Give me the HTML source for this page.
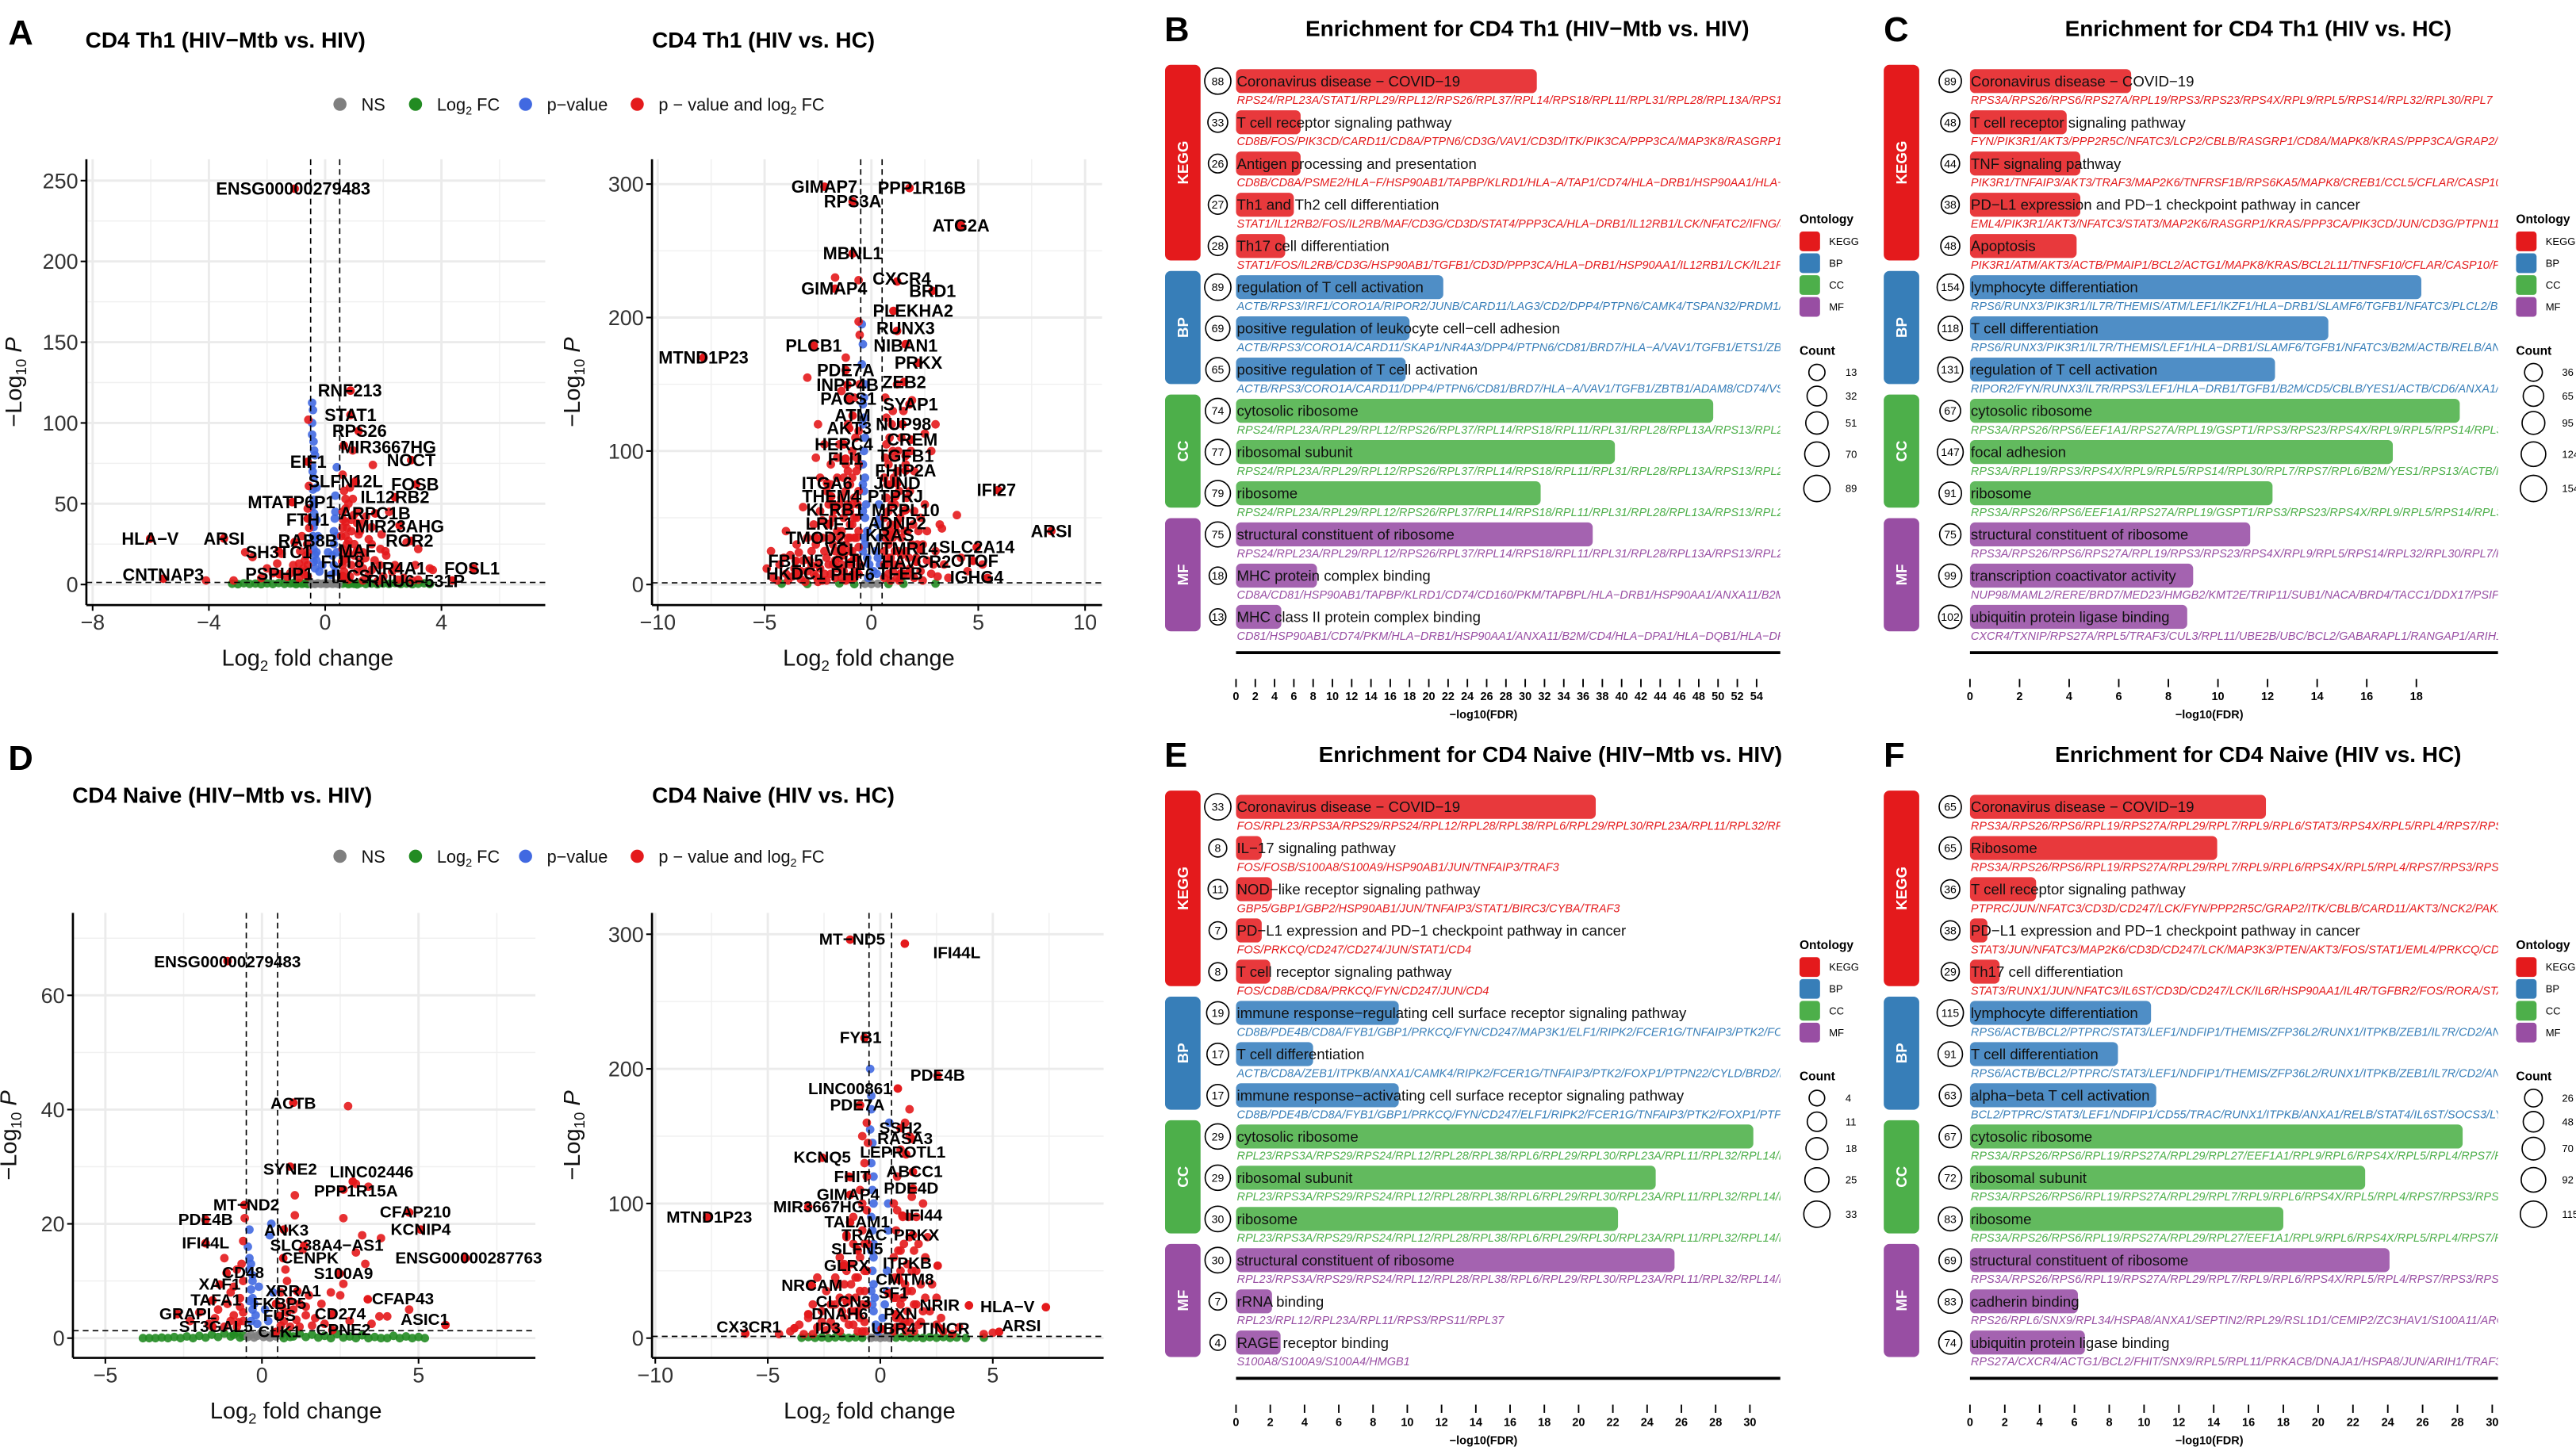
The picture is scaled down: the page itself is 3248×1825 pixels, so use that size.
<!DOCTYPE html>
<html><head><meta charset="utf-8">
<style>
html,body{margin:0;padding:0;background:#fff;}
svg{display:block;font-family:"Liberation Sans",Arial,sans-serif;}
</style></head>
<body>
<svg id="fig" width="3248" height="1825" viewBox="0 0 1568.5 881.3" xmlns="http://www.w3.org/2000/svg">
<rect x="0" y="0" width="1568.5" height="881.3" fill="#fff"/>
<defs>
<clipPath id="clipB"><rect x="700" y="0" width="384" height="881"/></clipPath>
<clipPath id="clipC"><rect x="1140" y="0" width="381" height="881"/></clipPath>
</defs>
</svg>
<script>
// ===================== VOLCANO DATA =====================
const a1Labels = [["ENSG00000279483",-1.05,245,-1.1,245],["RNF213",0.87,120,0.85,120],["STAT1",0.87,105,0.87,105],["RPS26",1.15,95,1.18,95],["MIR3667HG",0.64,86,2.17,85],["NOCT",2.96,77,2.96,77],["EIF1",-0.6,76,-0.58,76],["SLFN12L",1.05,64,0.7,64],["FOSB",3.13,62,3.09,62],["IL12RB2",2.4,54,2.4,54],["MTATP6P1",-1.13,51,-1.16,51],["ARPC1B",1.72,44,1.72,44],["FTH1",-0.6,40.8,-0.6,40],["MIR23AHG",2.56,36.5,2.56,36],["HLA\u2212V",-6.02,28.4,-6.02,28.4],["ARSI",-3.48,28.5,-3.48,28.4],["RAB8B",-1.05,26.3,-0.6,27],["ROR2",2.96,27,2.9,27],["SH3TC1",-1.6,20.6,-1.6,20],["MAF",1.1,21,1.1,21],["FUT8",0.59,14.2,0.59,14],["NR4A1",2.5,10,2.5,10],["FOSL1",5.1,10,5.05,10],["CNTNAP3",-5.57,3.6,-5.57,6],["PSPHP1",-1.58,6.4,-1.58,6.4],["HLCS",0.6,5.3,0.75,5.3],["RNU6\u2212531P",4.37,2.5,3.13,2]];
const a1Red = [[1.64,74],[0.64,86],[0.95,83],[0.6,68],[0.65,58],[0.7,53],[0.95,53],[0.7,47],[0.98,43],[0.7,38.6],[1.26,37.6],[1.6,35.5],[1.94,31],[1.15,31],[0.8,27],[1.6,25],[1.2,33],[2.07,20.6],[1.38,16.3],[1.88,12],[2.1,18],[3.1,12],[3.6,10],[3.7,9],[3.2,3],[2.5,3],[0.55,30],[0.6,22],[0.7,18],[0.9,12],[1.1,8],[1.5,6],[2.0,5],[2.7,4],[3.0,2.5],[0.55,5],[0.8,3],[1.3,2.5],[1.8,2],[2.3,8],[1.0,25],[1.3,20],[0.75,35],[0.62,40],[1.4,42],[0.85,60],[1.05,63],[2.2,45],[2.8,26],[3.2,22],[0.6,12],[0.65,8],[0.9,40],[1.1,45],[0.8,20],[1.2,14],[1.5,28],[0.7,30],[0.9,33],[1.0,18],[1.3,10],[1.7,15],[0.6,35],[0.75,25],[1.1,38],[0.65,15],[0.85,5],[1.6,9],[2.4,12],[1.9,22],[0.6,45],[0.8,50],
[-2.75,20],[-2.5,17],[-1.65,13],[-1.8,7],[-3.15,2.5],[-4.1,2.5],[-0.56,61],[-0.6,47],[-0.86,20.6],[-0.9,13],[-0.75,10],[-1.3,4.7],[-0.58,102],[-0.7,15],[-0.62,25],[-1.0,8],[-2.2,4],[-0.6,5],[-0.8,30],[-1.5,19],[-2.0,10],[-0.6,12],[-0.7,6],[-0.65,18],[-0.8,8],[-1.1,12],[-0.55,35],[-0.9,4],[-1.2,7],[-0.6,20]];
const a1Blue = [[-0.45,112.5],[-0.42,108],[-0.45,92.8],[-0.4,88.5],[-0.38,83],[-0.45,73.6],[-0.4,66],[-0.42,58.8],[-0.4,52.4],[-0.38,44],[-0.4,35.5],[-0.35,27],[-0.35,18.5],[-0.35,10],[0.4,72.6],[0.35,45],[0.33,40.8],[0.3,33],[0.3,25],[0.25,18],[-0.1,12],[0.1,20],[-0.3,60],[-0.35,80],[-0.45,100],[-0.3,40],[-0.25,30],[0.35,55],[-0.2,8],[0.2,6],[0.4,30],[-0.45,48],[-0.43,70],[-0.3,20],[-0.4,14],[0.3,12],[-0.45,38],[-0.38,50],[-0.42,30],[-0.4,22],[-0.3,15],[0.4,20],[0.35,8]];
const a1Green = [[-3.2,0.5],[-3.0,0.2],[-2.8,0.8],[-2.6,0.4],[-2.4,0.6],[-2.2,0.2],[-2.0,0.7],[-1.8,0.3],[-1.6,0.9],[-1.4,0.4],[-1.2,0.6],[-1.0,0.2],[-0.9,1.0],[-0.8,0.4],[-0.7,0.7],[-0.6,0.3],[0.6,0.5],[0.7,0.9],[0.8,0.2],[0.9,0.6],[1.0,0.4],[1.2,0.8],[1.4,0.3],[1.6,0.6],[1.8,0.2],[2.0,0.7],[2.2,0.4],[2.4,0.9],[2.6,0.3],[2.8,0.6],[3.0,0.2],[3.2,0.5],[3.4,0.8],[3.6,0.3],[-1.1,0.9],[1.1,0.1]];
const a1Gray = [[-0.45,0.5],[-0.35,0.3],[-0.25,0.8],[-0.15,0.4],[-0.05,0.6],[0.05,0.3],[0.15,0.7],[0.25,0.4],[0.35,0.6],[0.45,0.3]];

const a2Labels = [["GIMAP7",-2.2,298,-2.2,298],["PPP1R16B",1.78,297,2.36,297],["RPS3A",-0.88,287,-0.88,287],["ATG2A",4.19,269,4.19,269],["MBNL1",-0.88,248,-0.88,248],["CXCR4",1.2,227,1.42,229],["GIMAP4",-1.7,221.6,-1.74,221.6],["BRD1",2.86,220,2.86,220],["PLEKHA2",1.03,205,1.95,205],["RUNX3",1.2,190,1.6,192],["PLCB1",-2.7,179,-2.7,179],["NIBAN1",1.6,180,1.6,179],["MTND1P23",-7.86,170,-7.86,170],["PRKX",2.2,166,2.2,166],["PDE7A",-1.2,160.6,-1.2,160.6],["ZEB2",1.53,151.7,1.53,151.7],["INPP4B",-1.12,149.6,-1.12,149.6],["PACS1",-1.04,139,-1.08,139],["SYAP1",1.78,135,1.83,135],["ATM",-0.88,126.5,-0.88,126.5],["NUP98",1.45,120,1.5,120],["AKT3",-1.04,117,-1.04,117],["CREM",1.86,108.5,1.91,108.5],["HERC4",-1.29,105,-1.29,105],["TGFB1",1.6,96.4,1.6,96.4],["FLI1",-1.21,94.3,-1.21,94.3],["FHIP2A",1.6,85.3,1.6,85.3],["ITGA6",-2.08,76,-2.08,76],["JUND",1.2,75.8,1.2,75.8],["IFI27",5.93,70.7,5.85,70.7],["THEM4",-1.88,66,-1.88,66],["PTPRJ",1.12,66,1.12,66],["KLRB1",-1.71,56,-1.71,56],["MRPL10",1.6,55.8,1.6,55.8],["LRIF1",-1.96,45.5,-1.96,45.5],["ADNP2",1.2,46,1.2,46],["ARSI",8.42,40,8.42,40],["TMOD2",-2.6,35,-2.6,35],["KRAS",0.86,37,0.86,37],["SLC2A14",4.93,28,4.93,28],["VCL",-1.38,26,-1.38,26],["MTMR14",2.3,26,1.45,27],["FBLN5",-3.54,17.7,-3.54,17.7],["CHM",-0.96,16.7,-0.96,16.7],["HAVCR2",2.1,17,2.1,17],["OTOF",4.75,17.7,4.83,17.7],["HKDC1",-3.54,8.2,-3.54,8.2],["PHF6",-0.88,7.5,-0.88,7.5],["TFEB",1.36,8.2,1.36,8.2],["IGHG4",5.43,4.9,4.93,5.5]];
const a2Red = [[-4.7,25],[-4.9,12],[-4.6,5],[-4.3,15],[-4.0,8],[-3.8,22],[-3.6,12],[-3.5,30],[-3.3,4],[-3.2,18],[-3.0,10],[-3.0,35],[-2.8,25],[-2.7,45],[-2.6,6],[-2.5,15],[-2.4,55],[-2.3,35],[-2.2,25],[-2.2,8],[-2.1,70],[-2.0,45],[-2.0,15],[-1.9,90],[-1.8,60],[-1.8,30],[-1.7,5],[-1.6,80],[-1.6,40],[-1.5,20],[-1.5,105],[-1.4,65],[-1.3,50],[-1.3,10],[-1.2,90],[-1.2,30],[-1.1,120],[-1.0,75],[-1.0,45],[-1.0,15],[-0.9,100],[-0.9,60],[-0.8,140],[-0.8,35],[-0.8,5],[-0.7,85],[-0.7,50],[-0.7,20],[-0.6,115],[-0.6,70],[-0.6,28],[-0.55,150],[-2.5,120],[-3.0,155],[-1.7,230],[-0.6,228],[-0.6,197],[-0.55,187],[-1.2,170],[-1.4,145],[-2.2,105],[-2.6,95],[-3.2,58],[-4.0,40],[-1.9,75],[-2.4,80],[-1.1,60],[-1.4,25],[-2.8,14],[-3.9,3],[-0.9,25],[-1.7,18],[-2.1,3],[-1.1,4],[-0.6,8],[-0.7,95],
[-4.4,3],[-4.1,20],[-3.7,6],[-3.4,24],[-3.1,2],[-2.9,18],[-2.7,8],[-2.6,30],[-2.4,12],[-2.3,3],[-2.1,20],[-1.9,8],[-1.9,35],[-1.8,50],[-1.7,25],[-1.6,12],[-1.5,60],[-1.4,5],[-1.4,40],[-1.3,80],[-1.3,22],[-1.2,55],[-1.2,3],[-1.1,35],[-1.1,85],[-1.0,25],[-1.0,55],[-0.95,5],[-0.9,45],[-0.9,80],[-0.8,20],[-0.8,65],[-0.75,110],[-0.7,35],[-0.7,10],[-0.65,60],[-0.6,40],[-0.6,90],[-0.55,15],[-2.0,60],[-2.3,48],[-1.6,95],[-0.8,50],[-1.5,35],[-1.2,70],[-3.3,10],[-2.5,2],[-1.8,15],[-1.4,15],[-1.0,35],
[0.6,5],[0.6,25],[0.6,50],[0.6,80],[0.7,15],[0.7,40],[0.7,65],[0.7,105],[0.8,8],[0.8,30],[0.8,55],[0.8,90],[0.9,20],[0.9,45],[0.9,75],[1.0,10],[1.0,35],[1.0,100],[1.1,60],[1.1,25],[1.2,5],[1.2,45],[1.2,85],[1.3,15],[1.3,70],[1.4,35],[1.4,110],[1.5,8],[1.5,55],[1.6,25],[1.6,90],[1.7,40],[1.8,12],[1.8,70],[1.9,30],[2.0,5],[2.0,55],[2.1,20],[2.2,40],[2.3,10],[2.4,30],[2.5,60],[2.6,18],[2.8,8],[3.0,25],[3.2,45],[3.4,15],[3.6,5],[4.0,52],[3.0,120],[2.8,100],[1.5,130],[1.0,130],[1.9,138],[2.5,113],[3.3,42],[4.5,10],[5.2,15],[4.2,20],[1.2,150],[0.7,125],[0.6,15],[0.9,3],[1.4,22],[1.1,95],[2.0,85],[0.65,140],
[0.65,35],[0.65,95],[0.75,20],[0.75,75],[0.85,40],[0.85,110],[0.95,60],[1.05,15],[1.05,80],[1.15,40],[1.25,25],[1.25,100],[1.35,50],[1.45,8],[1.55,40],[1.65,65],[1.75,20],[1.85,100],[1.95,45],[2.15,30],[2.3,50],[2.6,40],[2.9,15],[3.1,6],[1.7,8],[1.3,3],[2.4,3],[0.95,120]];
const a2Blue = [[-0.45,195],[-0.4,180],[-0.45,165],[-0.3,150],[-0.4,135],[-0.35,125],[-0.3,110],[-0.35,100],[-0.4,90],[-0.3,80],[-0.35,70],[-0.25,60],[-0.3,50],[-0.2,40],[-0.3,30],[-0.2,20],[-0.1,15],[0.2,25],[0.1,10],[0.3,45],[0.35,60],[0.4,35],[0.25,8],[-0.35,140],[-0.4,120],[-0.4,75],[-0.15,5],[0.4,15],[-0.4,55],[-0.35,35],[-0.4,25],[0.3,20],[0.4,50]];
const a2Green = [[-4.2,0.6],[-3.0,0.4],[-1.5,0.8],[1.5,0.5],[3.0,0.7],[-0.8,0.3],[0.8,0.4]];
const a2Gray = [[-0.3,0.5],[0.0,0.4],[0.3,0.6]];

const d1Labels = [["ENSG00000279483",-1.1,66,-1.1,65.8],["ACTB",1.0,41.2,1.0,41],["SYNE2",0.9,30,0.9,29.5],["LINC02446",2.9,27.4,3.5,29],["PPP1R15A",2.6,26,3.0,25.7],["CFAP210",4.7,22,4.9,22],["MT\u2212ND2",-0.56,23.3,-0.5,23.3],["PDE4B",-1.8,20.7,-1.8,20.7],["ANK3",0.7,19,0.78,18.8],["KCNIP4",5.07,19,5.07,19],["IFI44L",-1.8,16.6,-1.8,16.6],["SLC38A4\u2212AS1",1.35,16.2,2.07,16.2],["CENPK",0.68,14,1.53,14],["ENSG00000287763",6.5,14,6.6,14],["CD48",-1.13,11.4,-0.6,11.4],["S100A9",2.48,11.3,2.6,11.3],["XAF1",-1.35,9.4,-1.35,9.4],["XRRA1",1.13,8.2,1.0,8.2],["TAFA1",-1.58,6.6,-1.47,6.6],["CFAP43",3.38,6.8,4.5,6.8],["FKBP5",0.45,6,0.56,6],["GRAPL",-2.7,4.2,-2.36,4.2],["CD274",2.25,4.2,2.5,4.2],["FUS",0.56,3.9,0.56,3.9],["ASIC1",5.86,2.3,5.2,3.2],["ST3GAL5",-1.58,2,-1.47,2],["CLK1",0.45,1.1,0.56,1.1],["CPNE2",2.25,1.4,2.6,1.4]];
const d1Red = [[2.75,40.6],[3.0,27],[3.4,26.5],[1.05,25],[1.05,21.5],[2.6,21],[3.2,18],[3.8,17.5],[3.0,15],[1.3,15.5],[3.3,13],[0.8,10],[2.6,9.5],[2.2,8],[2.5,7.5],[1.5,7.5],[1.9,6],[3.75,3.8],[4.0,3.8],[2.8,3],[1.0,5],[0.7,3],[1.2,2],[1.7,3.5],[-0.55,21],[-0.6,17],[-1.2,14],[-0.8,12],[-0.6,10],[-1.0,8],[-0.7,7],[-1.4,5],[-0.9,4],[-2.3,3],[-1.7,2.5],[-0.6,3],[-1.2,2],[-2.0,4.5],[0.6,8],[0.9,6.5],[1.4,4],[2.0,2.5],[0.6,2.2],[-0.8,2],[4.7,5],[3.5,2.5],[-0.7,5.5],[-1.0,3],[0.8,4.5],[1.2,6],[-0.65,13],[-0.9,9],[-1.1,6],[-0.6,4.5],[-0.75,2.8],[-1.5,3.5],[0.65,5.5],[0.75,12],[1.1,3.2],[1.6,2.2],[0.9,2],[1.4,5.5]];
const d1Blue = [[-0.45,16],[-0.4,14],[-0.35,13],[-0.4,12],[-0.3,10],[-0.35,8.5],[-0.3,7],[-0.25,6],[-0.3,5],[-0.2,4],[0.3,20],[0.25,18],[-0.1,9],[0.1,5],[0.2,3],[-0.15,2.5],[0.35,8],[-0.4,19],[-0.35,3],[-0.4,6.5],[-0.3,11]];
const d1Green = [[-3.8,0],[-3.6,0],[-3.4,0],[-3.2,0.1],[-3.0,0],[-2.8,0.2],[-2.6,0],[-2.4,0.3],[-2.2,0],[-2.0,0.4],[-1.8,0.1],[-1.6,0.6],[-1.4,0.2],[-1.2,0.8],[-1.0,0.3],[-0.8,1.0],[-0.6,0.4],[0.6,0.5],[0.8,1.0],[1.0,0.3],[1.2,0.8],[1.4,0.2],[1.6,0.6],[1.8,0.1],[2.0,0.4],[2.2,0],[2.4,0.7],[2.6,0.1],[2.8,0.3],[3.0,0],[3.2,0.5],[3.4,0],[3.6,0.2],[3.8,0],[4.0,0],[4.2,0.4],[4.4,0],[4.6,0.3],[4.8,0],[5.0,0.2],[5.2,0],[-0.7,0.1],[-0.9,0.6],[0.7,0],[0.9,0.2]];
const d1Gray = [[-0.45,0.2],[-0.35,0.6],[-0.25,0.1],[-0.15,0.4],[-0.05,0.8],[0.05,0.2],[0.15,0.5],[0.25,0.1],[0.35,0.7],[0.45,0.3]];

const d2Labels = [["MT\u2212ND5",-1.34,296,-1.25,296],["IFI44L",1.09,293,3.4,286],["FYB1",-0.7,223,-0.87,223],["PDE4B",2.55,195,2.55,195],["LINC00861",0.78,185.4,-1.34,185],["PDE7A",-0.9,173,-1.02,173],["SSH2",0.9,156,0.9,156],["RASA3",1.4,148,1.1,148],["LEPROTL1",1.15,136.5,1.0,138],["KCNQ5",-2.58,134,-2.58,134],["ABCC1",1.45,123.5,1.52,123.5],["FHIT",-1.34,119.6,-1.25,119.6],["PDE4D",1.45,111,1.37,111],["GIMAP4",-1.34,106.5,-1.43,106.5],["MIR3667HG",-3.2,97.4,-2.73,97.4],["IFI44",0.98,91,1.93,91],["MTND1P23",-7.7,89.6,-7.6,89.6],["TALAM1",-1.34,86,-1.03,86],["PRKX",1.45,76.5,1.61,76.5],["TRAC",-1.5,76.5,-0.71,76.5],["SLFN5",-1.03,66,-1.03,66],["ITPKB",2.55,53.8,1.2,55.6],["GLRX",-1.65,53.8,-1.49,53.8],["CMTM8",0.84,43.3,1.09,43.3],["NRCAM",-3.04,39,-3.04,39],["SF1",0.37,33.4,0.59,33.4],["CLCN3",-1.49,26.9,-1.65,26.9],["NRIR",3.94,24.3,2.64,24.3],["HLA\u2212V",7.36,23,5.65,23],["DNAH6",-3.2,17.8,-1.8,17.8],["PXN",0.68,17.8,0.9,17.8],["CX3CR1",-6.0,3.4,-5.84,8],["ID3",-3.82,7.3,-2.33,7.3],["UBR4",0.06,6.8,0.59,6.8],["TINCR",2.7,7,2.86,7],["ARSI",5.28,4.7,6.27,9]];
const d2Red = [[-4.0,5],[-3.6,10],[-3.2,15],[-3.0,25],[-2.8,8],[-2.6,20],[-2.4,35],[-2.2,12],[-2.0,45],[-2.0,25],[-1.8,60],[-1.8,5],[-1.6,40],[-1.6,15],[-1.5,75],[-1.4,30],[-1.3,55],[-1.2,10],[-1.2,90],[-1.1,45],[-1.0,20],[-1.0,65],[-0.9,110],[-0.9,35],[-0.8,80],[-0.8,5],[-0.7,50],[-0.7,130],[-0.6,25],[-0.6,95],[-0.55,145],[-0.6,160],[-0.8,150],[-0.55,70],[-1.4,120],[-3.4,3],[-4.5,3],[-2.8,45],[-1.9,40],[-1.1,20],[-0.7,12],[-2.4,6],
[-2.2,25],[-2.0,8],[-1.8,30],[-1.7,20],[-1.5,50],[-1.4,10],[-1.3,40],[-1.2,70],[-1.1,30],[-1.0,5],[-1.0,45],[-0.9,15],[-0.9,60],[-0.8,25],[-0.8,100],[-0.7,35],[-0.7,70],[-0.65,5],[-0.6,50],[-0.6,120],[-1.3,20],[-1.6,55],[-2.6,12],[-3.0,3],
[0.6,5],[0.6,30],[0.6,60],[0.6,100],[0.7,15],[0.7,80],[0.75,120],[0.8,45],[0.9,25],[0.9,65],[1.0,10],[1.0,90],[1.1,40],[1.1,160],[1.2,55],[1.2,20],[1.3,75],[1.3,170],[1.4,35],[1.5,65],[1.5,5],[1.6,25],[1.6,50],[1.8,40],[1.8,12],[2.0,30],[2.0,60],[2.2,20],[2.5,10],[2.8,5],[3.2,3],[4.6,3],[5.0,4],[1.9,100],[2.1,75],[1.4,105],[0.9,140],[1.3,150],[1.6,90],[2.5,30],[0.7,8],[1.1,12],
[0.65,45],[0.7,30],[0.8,15],[0.8,65],[0.9,50],[1.0,30],[1.05,70],[1.15,5],[1.2,35],[1.3,12],[1.4,50],[1.5,25],[1.7,10],[1.7,70],[1.9,20],[2.3,40],[0.75,95],[1.25,90],[2.7,15],[3.5,8]];
const d2Blue = [[-0.45,200],[-0.4,180],[-0.4,170],[-0.45,155],[-0.35,145],[-0.4,130],[-0.3,120],[-0.35,110],[-0.3,100],[-0.4,90],[-0.35,80],[-0.3,70],[-0.3,60],[-0.35,50],[-0.3,40],[-0.25,30],[-0.3,20],[-0.2,10],[0.4,160],[0.35,80],[0.3,50],[0.2,25],[0.1,15],[0.3,35],[-0.1,5],[0.35,100],[-0.4,35],[-0.35,25],[-0.4,65]];
const d2Green = [[-3.5,0.3],[-3.2,0.8],[-2.9,0.2],[-2.6,0.6],[-2.3,0.1],[-2.0,0.5],[-1.7,0.9],[-1.4,0.2],[-1.1,0.6],[-0.8,0.3],[0.7,0.4],[1.0,0.9],[1.3,0.2],[1.6,0.6],[1.9,0.1],[2.2,0.7],[2.5,0.3],[2.8,0.8],[3.1,0.2],[3.4,0.5],[3.8,0.1],[4.6,0.4]];
const d2Gray = [[-0.4,0.3],[-0.2,0.7],[0.0,0.2],[0.2,0.6],[0.4,0.3]];

// ===================== ENRICHMENT DATA =====================
const ontologies = ["KEGG","BP","CC","MF"];
const bTerms = ["Coronavirus disease \u2212 COVID\u221219","T cell receptor signaling pathway","Antigen processing and presentation","Th1 and Th2 cell differentiation","Th17 cell differentiation","regulation of T cell activation","positive regulation of leukocyte cell\u2212cell adhesion","positive regulation of T cell activation","cytosolic ribosome","ribosomal subunit","ribosome","structural constituent of ribosome","MHC protein complex binding","MHC class II protein complex binding"];
const bCounts = [88,33,26,27,28,89,69,65,74,77,79,75,18,13];
const bValues = [31.2,6.7,6.7,6.0,5.1,21.5,18.0,17.6,49.5,39.3,31.6,37.0,8.4,4.7];
const bGenes = ["RPS24/RPL23A/STAT1/RPL29/RPL12/RPS26/RPL37/RPL14/RPS18/RPL11/RPL31/RPL28/RPL13A/RPS13/RPL24","CD8B/FOS/PIK3CD/CARD11/CD8A/PTPN6/CD3G/VAV1/CD3D/ITK/PIK3CA/PPP3CA/MAP3K8/RASGRP1/LCK","CD8B/CD8A/PSME2/HLA\u2212F/HSP90AB1/TAPBP/KLRD1/HLA\u2212A/TAP1/CD74/HLA\u2212DRB1/HSP90AA1/HLA\u2212E","STAT1/IL12RB2/FOS/IL2RB/MAF/CD3G/CD3D/STAT4/PPP3CA/HLA\u2212DRB1/IL12RB1/LCK/NFATC2/IFNG/JAK","STAT1/FOS/IL2RB/CD3G/HSP90AB1/TGFB1/CD3D/PPP3CA/HLA\u2212DRB1/HSP90AA1/IL12RB1/LCK/IL21R/","ACTB/RPS3/IRF1/CORO1A/RIPOR2/JUNB/CARD11/LAG3/CD2/DPP4/PTPN6/CAMK4/TSPAN32/PRDM1/CD","ACTB/RPS3/CORO1A/CARD11/SKAP1/NR4A3/DPP4/PTPN6/CD81/BRD7/HLA\u2212A/VAV1/TGFB1/ETS1/ZBTB","ACTB/RPS3/CORO1A/CARD11/DPP4/PTPN6/CD81/BRD7/HLA\u2212A/VAV1/TGFB1/ZBTB1/ADAM8/CD74/VSIR","RPS24/RPL23A/RPL29/RPL12/RPS26/RPL37/RPL14/RPS18/RPL11/RPL31/RPL28/RPL13A/RPS13/RPL24","RPS24/RPL23A/RPL29/RPL12/RPS26/RPL37/RPL14/RPS18/RPL11/RPL31/RPL28/RPL13A/RPS13/RPL24","RPS24/RPL23A/RPL29/RPL12/RPS26/RPL37/RPL14/RPS18/RPL11/RPL31/RPL28/RPL13A/RPS13/RPL24","RPS24/RPL23A/RPL29/RPL12/RPS26/RPL37/RPL14/RPS18/RPL11/RPL31/RPL28/RPL13A/RPS13/RPL24","CD8A/CD81/HSP90AB1/TAPBP/KLRD1/CD74/CD160/PKM/TAPBPL/HLA\u2212DRB1/HSP90AA1/ANXA11/B2M/","CD81/HSP90AB1/CD74/PKM/HLA\u2212DRB1/HSP90AA1/ANXA11/B2M/CD4/HLA\u2212DPA1/HLA\u2212DQB1/HLA\u2212DRB"];
const bOnt = [0,0,0,0,0,1,1,1,2,2,2,3,3,3];
const bTicks = [0,2,4,6,8,10,12,14,16,18,20,22,24,26,28,30,32,34,36,38,40,42,44,46,48,50,52,54];
const bCountLegend = [13,32,51,70,89];

const cTerms = ["Coronavirus disease \u2212 COVID\u221219","T cell receptor signaling pathway","TNF signaling pathway","PD\u2212L1 expression and PD\u22121 checkpoint pathway in cancer","Apoptosis","lymphocyte differentiation","T cell differentiation","regulation of T cell activation","cytosolic ribosome","focal adhesion","ribosome","structural constituent of ribosome","transcription coactivator activity","ubiquitin protein ligase binding"];
const cCounts = [89,48,44,38,48,154,118,131,67,147,91,75,99,102];
const cValues = [6.5,3.9,4.45,4.45,4.3,18.2,14.45,12.3,19.75,17.05,12.2,11.3,9.0,8.76];
const cGenes = ["RPS3A/RPS26/RPS6/RPS27A/RPL19/RPS3/RPS23/RPS4X/RPL9/RPL5/RPS14/RPL32/RPL30/RPL7","FYN/PIK3R1/AKT3/PPP2R5C/NFATC3/LCP2/CBLB/RASGRP1/CD8A/MAPK8/KRAS/PPP3CA/GRAP2/PTP","PIK3R1/TNFAIP3/AKT3/TRAF3/MAP2K6/TNFRSF1B/RPS6KA5/MAPK8/CREB1/CCL5/CFLAR/CASP10/","EML4/PIK3R1/AKT3/NFATC3/STAT3/MAP2K6/RASGRP1/KRAS/PPP3CA/PIK3CD/JUN/CD3G/PTPN11/I","PIK3R1/ATM/AKT3/ACTB/PMAIP1/BCL2/ACTG1/MAPK8/KRAS/BCL2L11/TNFSF10/CFLAR/CASP10/PI","RPS6/RUNX3/PIK3R1/IL7R/THEMIS/ATM/LEF1/IKZF1/HLA\u2212DRB1/SLAMF6/TGFB1/NFATC3/PLCL2/B2","RPS6/RUNX3/PIK3R1/IL7R/THEMIS/LEF1/HLA\u2212DRB1/SLAMF6/TGFB1/NFATC3/B2M/ACTB/RELB/ANX","RIPOR2/FYN/RUNX3/IL7R/RPS3/LEF1/HLA\u2212DRB1/TGFB1/B2M/CD5/CBLB/YES1/ACTB/CD6/ANXA1/S","RPS3A/RPS26/RPS6/EEF1A1/RPS27A/RPL19/GSPT1/RPS3/RPS23/RPS4X/RPL9/RPL5/RPS14/RPL3","RPS3A/RPL19/RPS3/RPS4X/RPL9/RPL5/RPS14/RPL30/RPL7/RPS7/RPL6/B2M/YES1/RPS13/ACTB/IT","RPS3A/RPS26/RPS6/EEF1A1/RPS27A/RPL19/GSPT1/RPS3/RPS23/RPS4X/RPL9/RPL5/RPS14/RPL3","RPS3A/RPS26/RPS6/RPS27A/RPL19/RPS3/RPS23/RPS4X/RPL9/RPL5/RPS14/RPL32/RPL30/RPL7/R","NUP98/MAML2/RERE/BRD7/MED23/HMGB2/KMT2E/TRIP11/SUB1/NACA/BRD4/TACC1/DDX17/PSIP1","CXCR4/TXNIP/RPS27A/RPL5/TRAF3/CUL3/RPL11/UBE2B/UBC/BCL2/GABARAPL1/RANGAP1/ARIH1"];
const cOnt = [0,0,0,0,0,1,1,1,2,2,2,3,3,3];
const cTicks = [0,2,4,6,8,10,12,14,16,18];
const cCountLegend = [36,65,95,124,154];

const eTerms = ["Coronavirus disease \u2212 COVID\u221219","IL\u221217 signaling pathway","NOD\u2212like receptor signaling pathway","PD\u2212L1 expression and PD\u22121 checkpoint pathway in cancer","T cell receptor signaling pathway","immune response\u2212regulating cell surface receptor signaling pathway","T cell differentiation","immune response\u2212activating cell surface receptor signaling pathway","cytosolic ribosome","ribosomal subunit","ribosome","structural constituent of ribosome","rRNA binding","RAGE receptor binding"];
const eCounts = [33,8,11,7,8,19,17,17,29,29,30,30,7,4];
const eValues = [21.0,1.5,2.1,1.5,2.0,9.5,4.5,9.5,30.2,24.5,22.3,25.6,2.1,2.6];
const eGenes = ["FOS/RPL23/RPS3A/RPS29/RPS24/RPL12/RPL28/RPL38/RPL6/RPL29/RPL30/RPL23A/RPL11/RPL32/RPL","FOS/FOSB/S100A8/S100A9/HSP90AB1/JUN/TNFAIP3/TRAF3","GBP5/GBP1/GBP2/HSP90AB1/JUN/TNFAIP3/STAT1/BIRC3/CYBA/TRAF3","FOS/PRKCQ/CD247/CD274/JUN/STAT1/CD4","FOS/CD8B/CD8A/PRKCQ/FYN/CD247/JUN/CD4","CD8B/PDE4B/CD8A/FYB1/GBP1/PRKCQ/FYN/CD247/MAP3K1/ELF1/RIPK2/FCER1G/TNFAIP3/PTK2/FOX","ACTB/CD8A/ZEB1/ITPKB/ANXA1/CAMK4/RIPK2/FCER1G/TNFAIP3/PTK2/FOXP1/PTPN22/CYLD/BRD2/HMGB","CD8B/PDE4B/CD8A/FYB1/GBP1/PRKCQ/FYN/CD247/ELF1/RIPK2/FCER1G/TNFAIP3/PTK2/FOXP1/PTPN22/CYL","RPL23/RPS3A/RPS29/RPS24/RPL12/RPL28/RPL38/RPL6/RPL29/RPL30/RPL23A/RPL11/RPL32/RPL14/R","RPL23/RPS3A/RPS29/RPS24/RPL12/RPL28/RPL38/RPL6/RPL29/RPL30/RPL23A/RPL11/RPL32/RPL14/R","RPL23/RPS3A/RPS29/RPS24/RPL12/RPL28/RPL38/RPL6/RPL29/RPL30/RPL23A/RPL11/RPL32/RPL14/R","RPL23/RPS3A/RPS29/RPS24/RPL12/RPL28/RPL38/RPL6/RPL29/RPL30/RPL23A/RPL11/RPL32/RPL14/R","RPL23/RPL12/RPL23A/RPL11/RPS3/RPS11/RPL37","S100A8/S100A9/S100A4/HMGB1"];
const eOnt = [0,0,0,0,0,1,1,1,2,2,2,3,3,3];
const eTicks = [0,2,4,6,8,10,12,14,16,18,20,22,24,26,28,30];
const eCountLegend = [4,11,18,25,33];

const fTerms = ["Coronavirus disease \u2212 COVID\u221219","Ribosome","T cell receptor signaling pathway","PD\u2212L1 expression and PD\u22121 checkpoint pathway in cancer","Th17 cell differentiation","lymphocyte differentiation","T cell differentiation","alpha\u2212beta T cell activation","cytosolic ribosome","ribosomal subunit","ribosome","structural constituent of ribosome","cadherin binding","ubiquitin protein ligase binding"];
const fCounts = [65,65,36,38,29,115,91,63,67,72,83,69,83,74];
const fValues = [17.0,14.2,3.8,1.0,1.7,10.4,8.5,10.7,28.3,22.7,18.0,24.1,6.2,6.6];
const fGenes = ["RPS3A/RPS26/RPS6/RPL19/RPS27A/RPL29/RPL7/RPL9/RPL6/STAT3/RPS4X/RPL5/RPL4/RPS7/RPS3/E","RPS3A/RPS26/RPS6/RPL19/RPS27A/RPL29/RPL7/RPL9/RPL6/RPS4X/RPL5/RPL4/RPS7/RPS3/RPS14/R","PTPRC/JUN/NFATC3/CD3D/CD247/LCK/FYN/PPP2R5C/GRAP2/ITK/CBLB/CARD11/AKT3/NCK2/PAK2/FO","STAT3/JUN/NFATC3/MAP2K6/CD3D/CD247/LCK/MAP3K3/PTEN/AKT3/FOS/STAT1/EML4/PRKCQ/CD3G/A","STAT3/RUNX1/JUN/NFATC3/IL6ST/CD3D/CD247/LCK/IL6R/HSP90AA1/IL4R/TGFBR2/FOS/RORA/STAT1/P","RPS6/ACTB/BCL2/PTPRC/STAT3/LEF1/NDFIP1/THEMIS/ZFP36L2/RUNX1/ITPKB/ZEB1/IL7R/CD2/ANXA1/","RPS6/ACTB/BCL2/PTPRC/STAT3/LEF1/NDFIP1/THEMIS/ZFP36L2/RUNX1/ITPKB/ZEB1/IL7R/CD2/ANXA1/","BCL2/PTPRC/STAT3/LEF1/NDFIP1/CD55/TRAC/RUNX1/ITPKB/ANXA1/RELB/STAT4/IL6ST/SOCS3/LY9/CD","RPS3A/RPS26/RPS6/RPL19/RPS27A/RPL29/RPL27/EEF1A1/RPL9/RPL6/RPS4X/RPL5/RPL4/RPS7/RPS3/F","RPS3A/RPS26/RPS6/RPL19/RPS27A/RPL29/RPL7/RPL9/RPL6/RPS4X/RPL5/RPL4/RPS7/RPS3/RPS14/R","RPS3A/RPS26/RPS6/RPL19/RPS27A/RPL29/RPL27/EEF1A1/RPL9/RPL6/RPS4X/RPL5/RPL4/RPS7/RPS3/F","RPS3A/RPS26/RPS6/RPL19/RPS27A/RPL29/RPL7/RPL9/RPL6/RPS4X/RPL5/RPL4/RPS7/RPS3/RPS14/R","RPS26/RPL6/SNX9/RPL34/HSPA8/ANXA1/SEPTIN2/RPL29/RSL1D1/CEMIP2/ZC3HAV1/S100A11/ARGLU1","RPS27A/CXCR4/ACTG1/BCL2/FHIT/SNX9/RPL5/RPL11/PRKACB/DNAJA1/HSPA8/JUN/ARIH1/TRAF3/UBE"];
const fOnt = [0,0,0,0,0,1,1,1,2,2,2,3,3,3];
const fTicks = [0,2,4,6,8,10,12,14,16,18,20,22,24,26,28,30];
const fCountLegend = [26,48,70,92,115];

// ===================== DRAWING =====================
const NS = "http://www.w3.org/2000/svg";
const svg = document.getElementById("fig");
function mk(tag, attrs, parent, text){
  const e = document.createElementNS(NS, tag);
  for (const k in attrs) e.setAttribute(k, attrs[k]);
  if (text !== undefined) e.textContent = text;
  (parent || svg).appendChild(e);
  return e;
}
function grp(parent, name){
  const g = mk("g", {}, parent);
  
  
  return g;
}
function txt(parent, name, x, y, s, attrs){
  const t = mk("text", Object.assign({x:x, y:y}, attrs||{}), parent, s);
  
  
  return t;
}

const pointColors = {red:"#e41a1c", blue:"#4169e1", green:"#228b22", gray:"#7f7f7f"};
const PR = 2.6;

function volcano(cfg){
  const g = grp(svg, cfg.name);
  const X = v => cfg.x0 + cfg.sx * v;
  const Y = v => cfg.y0 - cfg.sy * v;
  cfg.xMinor.forEach(v => mk("line",{x1:X(v),x2:X(v),y1:cfg.top,y2:cfg.bottom,stroke:"#f0f0f0","stroke-width":0.7},g));
  cfg.yMinor.forEach(v => mk("line",{x1:cfg.left,x2:cfg.right,y1:Y(v),y2:Y(v),stroke:"#f0f0f0","stroke-width":0.7},g));
  cfg.xTicks.forEach(v => mk("line",{x1:X(v),x2:X(v),y1:cfg.top,y2:cfg.bottom,stroke:"#ebebeb","stroke-width":1.4},g));
  cfg.yTicks.forEach(v => mk("line",{x1:cfg.left,x2:cfg.right,y1:Y(v),y2:Y(v),stroke:"#ebebeb","stroke-width":1.4},g));
  const layers = [["green",cfg.green],["gray",cfg.gray],["blue",cfg.blue],["red",cfg.red]];
  layers.forEach(([col, arr]) => {
    const lg = grp(g, col + "-points");
    arr.forEach(p => {
      const c = mk("circle",{cx:X(p[0]),cy:Y(p[1]),r:PR,fill:pointColors[col],"fill-opacity":0.9},lg);
      
      
    });
  });
  const lp = grp(g, "labelled-gene-points");
  cfg.labels.forEach(l => {
    const c = mk("circle",{cx:X(l[1]),cy:Y(l[2]),r:PR,fill:pointColors.red},lp);
    
    
  });
  [-0.5,0.5].forEach(v => mk("line",{x1:X(v),x2:X(v),y1:cfg.top,y2:cfg.bottom,stroke:"#000","stroke-width":0.8,"stroke-dasharray":"3.5,2.5"},g));
  mk("line",{x1:cfg.left,x2:cfg.right,y1:Y(1.3),y2:Y(1.3),stroke:"#000","stroke-width":0.8,"stroke-dasharray":"3.5,2.5"},g);
  const lt = grp(g, "gene-labels");
  cfg.labels.forEach(l => {
    txt(lt, "gene-label", X(l[3]), Y(l[4]), l[0], {"text-anchor":"middle","dominant-baseline":"central","font-size":cfg.labelSize,"font-weight":"bold",fill:"#000"});
  });
  mk("line",{x1:cfg.left,x2:cfg.left,y1:cfg.top,y2:cfg.bottom,stroke:"#000","stroke-width":1.3},g);
  mk("line",{x1:cfg.left,x2:cfg.right,y1:cfg.bottom,y2:cfg.bottom,stroke:"#000","stroke-width":1.3},g);
  const ax = grp(g, "x-axis");
  cfg.xTicks.forEach(v => {
    mk("line",{x1:X(v),x2:X(v),y1:cfg.bottom,y2:cfg.bottom+3.5,stroke:"#000","stroke-width":1},ax);
    txt(ax,"x-tick-label",X(v),cfg.bottom+15,(v<0?"\u2212"+(-v):""+v),{"text-anchor":"middle","font-size":13,fill:"#333"});
  });
  const ay = grp(g, "y-axis");
  cfg.yTicks.forEach(v => {
    mk("line",{x1:cfg.left-3.5,x2:cfg.left,y1:Y(v),y2:Y(v),stroke:"#000","stroke-width":1},ay);
    txt(ay,"y-tick-label",cfg.left-5,Y(v)+4.6,""+v,{"text-anchor":"end","font-size":13,fill:"#333"});
  });
  const xt = txt(g,"x-axis-title",(cfg.left+cfg.right)/2 - 5,cfg.bottom+37,"Log",{"text-anchor":"middle","font-size":14,fill:"#111"});
  mk("tspan",{"font-size":9,dy:3},xt,"2");
  mk("tspan",{dy:-3},xt," fold change");
  const yt = txt(g,"y-axis-title",0,0,"\u2212Log",{"text-anchor":"middle","font-size":14,fill:"#111",transform:`translate(${cfg.ytx},${(cfg.top+cfg.bottom)/2}) rotate(-90)`});
  mk("tspan",{"font-size":9,dy:3},yt,"10");
  mk("tspan",{dy:-3,"font-style":"italic"},yt," P");
}

function volcanoLegend(y){
  const g = grp(svg, "volcano-legend");
  const items = [["NS","gray",207],["Log2 FC","green",253],["p\u2212value","blue",320],["p \u2212 value and log2 FC","red",388]];
  items.forEach(([lab,col,x]) => {
    const e = grp(g, "legend-entry");
    mk("circle",{cx:x,cy:y,r:4,fill:pointColors[col]},e);
    if (lab === "Log2 FC"){
      const t = txt(e,"legend-label",x+13,y+3.8,"Log",{"font-size":10.5,fill:"#111"});
      mk("tspan",{"font-size":7,dy:2.5},t,"2");
      mk("tspan",{dy:-2.5},t," FC");
    } else if (lab.indexOf("log2") >= 0){
      const t = txt(e,"legend-label",x+13,y+3.8,"p \u2212 value and log",{"font-size":10.5,fill:"#111"});
      mk("tspan",{"font-size":7,dy:2.5},t,"2");
      mk("tspan",{dy:-2.5},t," FC");
    } else {
      txt(e,"legend-label",x+13,y+3.8,lab,{"font-size":10.5,fill:"#111"});
    }
  });
}

function label(s,x,y,name,size){ txt(svg,name,x,y,s,{"font-size":size,"font-weight":"bold",fill:"#000"}); }
label("A",5,27,"panel-label-a",21); label("D",5,469,"panel-label-d",21);
label("B",709,25,"panel-label-b",21); label("C",1147,25,"panel-label-c",21);
label("E",709,467,"panel-label-e",21); label("F",1147,467,"panel-label-f",21);
label("CD4 Th1 (HIV\u2212Mtb vs. HIV)",52,29,"volcano-title-a1",13.5);
label("CD4 Th1 (HIV vs. HC)",397,29,"volcano-title-a2",13.5);
label("CD4 Naive (HIV\u2212Mtb vs. HIV)",44,489,"volcano-title-d1",13.5);
label("CD4 Naive (HIV vs. HC)",397,489,"volcano-title-d2",13.5);
volcanoLegend(63.5);
volcanoLegend(521.5);

volcano({name:"volcano-a1",x0:198,sx:17.7,y0:356,sy:0.984,left:52.6,right:332,top:97,bottom:368.5,
  xTicks:[-8,-4,0,4],xMinor:[-6,-2,2,6],yTicks:[0,50,100,150,200,250],yMinor:[25,75,125,175,225],
  labels:a1Labels,red:a1Red,blue:a1Blue,green:a1Green,gray:a1Gray,labelSize:10.5,ytx:13});
volcano({name:"volcano-a2",x0:530.6,sx:13.01,y0:356,sy:0.813,left:397,right:671,top:97,bottom:368.5,
  xTicks:[-10,-5,0,5,10],xMinor:[-7.5,-2.5,2.5,7.5],yTicks:[0,100,200,300],yMinor:[50,150,250],
  labels:a2Labels,red:a2Red,blue:a2Blue,green:a2Green,gray:a2Gray,labelSize:10.5,ytx:353});
volcano({name:"volcano-d1",x0:159.5,sx:19.07,y0:815,sy:3.48,left:44.4,right:326,top:556,bottom:827,
  xTicks:[-5,0,5],xMinor:[-2.5,2.5,7.5],yTicks:[0,20,40,60],yMinor:[10,30,50,70],
  labels:d1Labels,red:d1Red,blue:d1Blue,green:d1Green,gray:d1Gray,labelSize:10,ytx:10});
volcano({name:"volcano-d2",x0:536,sx:13.7,y0:815,sy:0.82,left:397,right:672,top:556,bottom:827,
  xTicks:[-10,-5,0,5],xMinor:[-7.5,-2.5,2.5,7.5],yTicks:[0,100,200,300],yMinor:[50,150,250],
  labels:d2Labels,red:d2Red,blue:d2Blue,green:d2Green,gray:d2Gray,labelSize:10,ytx:353});

const ontBlock = ["#e41a1c","#377eb8","#4daf4a","#984ea3"];
const ontBar = ["#e8393c","#4f8ec6","#62ba5e","#a463b0"];
function rad(c, max){ return 3 + 5*Math.sqrt(c/max); }

function enrichment(cfg){
  const g = grp(svg, cfg.name);
  const dy = cfg.dy;
  const X = v => cfg.x0 + cfg.sx * v;
  const rowY = i => dy + 49.4 + 25.1 * i;
  const maxC = cfg.countLegend[cfg.countLegend.length-1];
  txt(g,"chart-title",cfg.titleX,dy+22,cfg.title,{"text-anchor":"middle","font-size":13.5,"font-weight":"bold",fill:"#000"});
  ontologies.forEach((o,k) => {
    const idx = cfg.ont.map((v,i)=>v===k?i:-1).filter(i=>i>=0);
    const y1 = rowY(idx[0]) - 9.9, y2 = rowY(idx[idx.length-1]) + 8.8;
    const b = mk("rect",{x:cfg.blockX,y:y1,width:21.6,height:y2-y1,rx:3.5,fill:ontBlock[k]},g);
    
    
    const cx = cfg.blockX + 10.8, cy = (y1+y2)/2;
    txt(g,"ontology-block-label",0,0,o,{"text-anchor":"middle","dominant-baseline":"central","font-size":9,"font-weight":"bold",fill:"#fff",transform:`translate(${cx},${cy}) rotate(-90)`});
  });
  const genesG = grp(g, "gene-lists");
  genesG.setAttribute("clip-path", `url(#${cfg.clip})`);
  cfg.terms.forEach((t,i) => {
    const y = rowY(i), k = cfg.ont[i];
    const row = grp(g, "term-row");
    const bar = mk("rect",{x:cfg.x0,y:y-7.3,width:Math.max(0,X(cfg.values[i])-cfg.x0),height:14.6,rx:3,fill:ontBar[k]},row);
    
    
    const c = mk("circle",{cx:cfg.circleX,cy:y,r:rad(cfg.counts[i],maxC),fill:"#fff",stroke:"#000","stroke-width":0.8},row);
    
    
    txt(row,"count-value",cfg.circleX,y,""+cfg.counts[i],{"text-anchor":"middle","dominant-baseline":"central","font-size":6.8,fill:"#000"});
    txt(row,"term-label",cfg.x0+0.5,y,t,{"dominant-baseline":"central","font-size":9,fill:"#111"});
    txt(genesG,"gene-list",cfg.x0+0.5,y+12,cfg.genes[i],{"dominant-baseline":"central","font-size":7,"font-style":"italic",fill:ontBlock[k]});
  });
  const ax = grp(g, "x-axis");
  const axY = dy + 397.5;
  mk("line",{x1:cfg.x0,x2:cfg.axisEnd,y1:axY,y2:axY,stroke:"#000","stroke-width":1.8},ax);
  cfg.ticks.forEach(v => {
    mk("line",{x1:X(v),x2:X(v),y1:axY+16,y2:axY+21,stroke:"#000","stroke-width":0.9},ax);
    txt(ax,"x-tick-label",X(v),axY+29,""+v,{"text-anchor":"middle","font-size":7,"font-weight":"bold",fill:"#000"});
  });
  txt(ax,"x-axis-title",(cfg.x0+cfg.axisEnd)/2 - 15,axY+40,"\u2212log10(FDR)",{"text-anchor":"middle","font-size":7,"font-weight":"bold",fill:"#000"});
  const lg = grp(g, "legend");
  const lx = cfg.legendX;
  txt(lg,"legend-title-ontology",lx,dy+136,"Ontology",{"font-size":7.5,"font-weight":"bold",fill:"#000"});
  ontologies.forEach((o,k) => {
    const e = grp(lg, "legend-entry");
    mk("rect",{x:lx,y:dy+141+13.3*k,width:12.5,height:12,rx:2,fill:ontBlock[k]},e);
    txt(e,"legend-label",lx+18,dy+147+13.3*k,o,{"dominant-baseline":"central","font-size":6.3,fill:"#000"});
  });
  txt(lg,"legend-title-count",lx,dy+216,"Count",{"font-size":7.5,"font-weight":"bold",fill:"#000"});
  const cy = [226.8,241.2,257.6,276.6,297.5];
  cfg.countLegend.forEach((c,j) => {
    const e = grp(lg, "legend-entry");
    mk("circle",{cx:lx+10.6,cy:dy+cy[j],r:rad(c,maxC),fill:"#fff",stroke:"#000","stroke-width":0.8},e);
    txt(e,"legend-label",lx+28,dy+cy[j],""+c,{"dominant-baseline":"central","font-size":6.3,fill:"#000"});
  });
}

enrichment({name:"enrichment-b",dy:0,x0:752.6,sx:5.87,blockX:709.4,circleX:741.5,title:"Enrichment for CD4 Th1 (HIV\u2212Mtb vs. HIV)",titleX:930,
  terms:bTerms,counts:bCounts,values:bValues,genes:bGenes,ont:bOnt,ticks:bTicks,countLegend:bCountLegend,axisEnd:1084,legendX:1095.7,clip:"clipB"});
enrichment({name:"enrichment-c",dy:0,x0:1199.5,sx:15.1,blockX:1147,circleX:1187.5,title:"Enrichment for CD4 Th1 (HIV vs. HC)",titleX:1375,
  terms:cTerms,counts:cCounts,values:cValues,genes:cGenes,ont:cOnt,ticks:cTicks,countLegend:cCountLegend,axisEnd:1521,legendX:1532,clip:"clipC"});
enrichment({name:"enrichment-e",dy:442,x0:752.6,sx:10.43,blockX:709.4,circleX:741.5,title:"Enrichment for CD4 Naive (HIV\u2212Mtb vs. HIV)",titleX:944,
  terms:eTerms,counts:eCounts,values:eValues,genes:eGenes,ont:eOnt,ticks:eTicks,countLegend:eCountLegend,axisEnd:1084,legendX:1095.7,clip:"clipB"});
enrichment({name:"enrichment-f",dy:442,x0:1199.5,sx:10.6,blockX:1147,circleX:1187.5,title:"Enrichment for CD4 Naive (HIV vs. HC)",titleX:1375,
  terms:fTerms,counts:fCounts,values:fValues,genes:fGenes,ont:fOnt,ticks:fTicks,countLegend:fCountLegend,axisEnd:1521,legendX:1532,clip:"clipC"});
</script>
</body></html>
